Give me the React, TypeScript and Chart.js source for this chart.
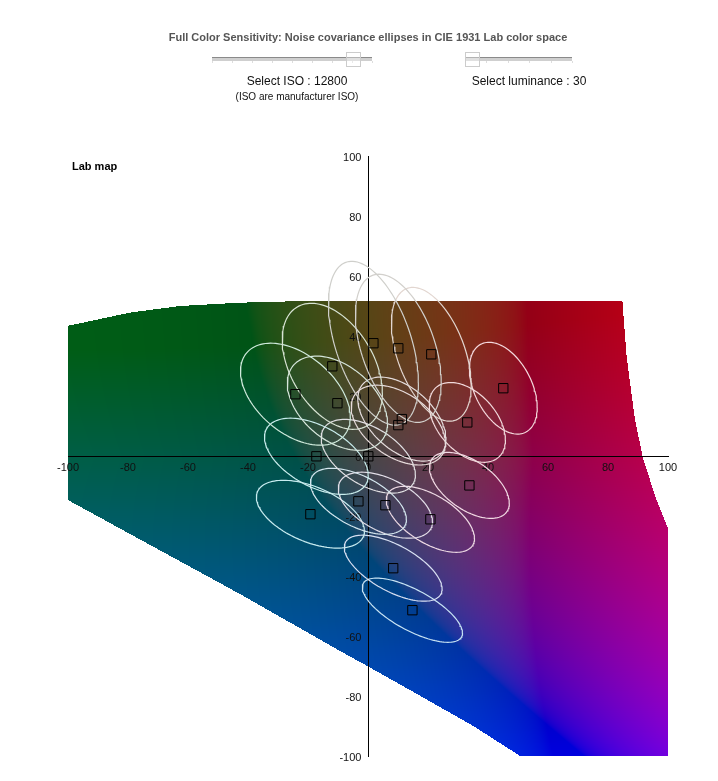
import React, { useEffect, useRef } from "react";
import { Chart, registerables } from "chart.js";

Chart.register(...registerables);

const axisTicks = [-100, -80, -60, -40, -20, 0, 20, 40, 60, 80, 100];

// Measured colour patches (a*, b*)
const patchA = [1.8, 10.1, 21.1, 45.1, -11.9, -24.2, -10.2, 11.3, 10.1, 33.1, -17.2, 0.1, 33.8, -3.2, 5.8, -19.2, 20.8, 8.4, 14.8];
const patchB = [37.6, 35.9, 33.9, 22.6, 29.9, 20.6, 17.6, 12.3, 10.3, 11.2, -0.1, -0.1, -9.8, -15.1, -16.4, -19.4, -21.1, -37.4, -51.4];

// Noise covariance ellipses: half extents along a*, b* and their correlation
const spreadA = [15, 14.3, 13.3, 11.3, 16.7, 18.3, 16.7, 14.7, 15.7, 12.7, 17.3, 15.7, 13.3, 16, 15.7, 18, 14.7, 16.3, 16.7];
const spreadB = [27.3, 24.7, 22.3, 15.3, 21, 17, 15.7, 14, 13.3, 13.3, 12.7, 12.3, 11, 11, 11, 11.3, 11, 11, 10.7];
const correlation = [-0.48, -0.45, -0.46, -0.42, -0.42, -0.45, -0.42, -0.48, -0.45, -0.44, -0.5, -0.5, -0.54, -0.55, -0.5, -0.5, -0.58, -0.63, -0.71];
const ellipseColors = [
  "#cfcfcb", "#d2d0cc", "#e2d6d0", "#f4d8dc", "#d8e4d4", "#cfeadc", "#d6e6dc", "#e4dcdc", "#e8dcdc", "#f2dadc",
  "#c8ecec", "#e0dfe2", "#f2dae4", "#d4e6ee", "#e2dee8", "#c8ecf0", "#eedae4", "#d8e0f2", "#c8e4f4",
];

// Outline of the displayed Lab map at L = 30
const gamutA = [-100, -79.3, -62.7, -42.7, -20, 84.8, 86.2, 89, 91.8, 96.2, 100, 100, 50.7, 35.1, 12.9, 0.1, -9.3, -42.7, -100];
const gamutB = [43.4, 47.8, 50, 51.1, 51.7, 51.7, 33.1, 12, -1.3, -14.7, -24.1, -100, -100, -90, -77.4, -70.2, -65, -46, -14.7];
const mapLightness = 30;

function inGamut(a: number, b: number) {
  let inside = false;
  const n = gamutA.length;
  for (let i = 0, j = n - 1; i < n; j = i++) {
    const yi = gamutB[i], yj = gamutB[j];
    if (yi > b !== yj > b && a < ((gamutA[j] - gamutA[i]) * (b - yi)) / (yj - yi) + gamutA[i]) inside = !inside;
  }
  return inside;
}

function labToRgb(L: number, a: number, b: number) {
  const fy = (L + 16) / 116;
  const inv = (t: number) => (t > 6 / 29 ? t * t * t : 3 * (6 / 29) * (6 / 29) * (t - 4 / 29));
  const X = 0.9505 * inv(fy + a / 500);
  const Y = inv(fy);
  const Z = 1.089 * inv(fy - b / 200);
  const r = 3.2406 * X - 1.5372 * Y - 0.4986 * Z;
  const g = -0.9689 * X + 1.8758 * Y + 0.0415 * Z + Math.min(0, b) * 0.0002;
  const bl = 0.0557 * X - 0.204 * Y + 1.057 * Z;
  const enc = (v: number) => {
    const c = Math.max(0, Math.min(1, v));
    return 255 * (c <= 0.0031308 ? 12.92 * c : 1.055 * Math.pow(c, 1 / 2.4) - 0.055);
  };
  return [enc(r), enc(g), enc(Math.max(bl, 0) * 0.88 + 0.008)];
}

const labMapPlugin = {
  id: "labMap",
  beforeDraw(chart: any) {
    const { ctx, chartArea, scales } = chart;
    const left = Math.round(chartArea.left);
    const top = Math.round(chartArea.top);
    const w = Math.round(chartArea.right - chartArea.left);
    const h = Math.round(chartArea.bottom - chartArea.top);
    const off = document.createElement("canvas");
    off.width = w;
    off.height = h;
    const octx = off.getContext("2d")!;
    const img = octx.createImageData(w, h);
    for (let py = 0; py < h; py++) {
      const b = scales.y.getValueForPixel(top + py + 0.5);
      for (let px = 0; px < w; px++) {
        const a = scales.x.getValueForPixel(left + px + 0.5);
        if (!inGamut(a, b)) continue;
        const [r, g, bl] = labToRgb(mapLightness, a, b);
        const i = (py * w + px) * 4;
        img.data[i] = r;
        img.data[i + 1] = g;
        img.data[i + 2] = bl;
        img.data[i + 3] = 255;
      }
    }
    octx.putImageData(img, 0, 0);
    ctx.drawImage(off, left, top);
  },
};

function ellipseOutline(i: number) {
  const pts: { x: number; y: number }[] = [];
  const q = Math.sqrt(1 - correlation[i] * correlation[i]);
  for (let k = 0; k <= 120; k++) {
    const t = (k / 120) * 2 * Math.PI;
    pts.push({
      x: patchA[i] + spreadA[i] * Math.cos(t),
      y: patchB[i] + spreadB[i] * (correlation[i] * Math.cos(t) + q * Math.sin(t)),
    });
  }
  return pts;
}

const F = '"Liberation Sans", Arial, sans-serif';

function Text({ x, y, children, size, bold, color, anchor }: any) {
  return (
    <div
      style={{
        position: "absolute",
        left: x,
        top: y,
        transform: anchor === "left" ? "translateY(-50%)" : "translate(-50%,-50%)",
        font: `${bold ? "bold " : ""}${size}px ${F}`,
        color,
        whiteSpace: "nowrap",
      }}
    >
      {children}
    </div>
  );
}

function Slider({ x, width, handle, ticks }: { x: number; width: number; handle: number; ticks: number }) {
  return (
    <div style={{ position: "absolute", left: x, top: 52, width, height: 15 }}>
      <div style={{ position: "absolute", left: 0, right: 0, top: 5, height: 1, background: "#8a8a8a" }} />
      <div style={{ position: "absolute", left: 0, right: 0, top: 6, height: 3, background: "#cfcfcf" }} />
      {Array.from({ length: ticks }, (_, i) => (
        <div key={i} style={{ position: "absolute", left: (i * width) / (ticks - 1), top: 9, width: 1, height: 2, background: "#dddddd" }} />
      ))}
      <div style={{ position: "absolute", left: handle, top: 0, width: 13, height: 13, border: "1px solid #cccccc", background: "rgba(255,255,255,0.35)" }} />
    </div>
  );
}

export default function App() {
  const ref = useRef<HTMLCanvasElement>(null);
  useEffect(() => {
    const ellipses = patchA.map((_, i) => ({
      type: "scatter" as const,
      data: ellipseOutline(i),
      showLine: true,
      borderColor: ellipseColors[i],
      borderWidth: 1.2,
      pointRadius: 0,
      tension: 0,
      fill: false,
      order: 2,
    }));
    const setTicks = (s: any) => { s.ticks = axisTicks.map((value) => ({ value })); };
    const chart = new Chart(ref.current!, {
      type: "scatter",
      data: {
        datasets: [
          ...ellipses,
          {
            type: "scatter" as const,
            data: patchA.map((a, i) => ({ x: a, y: patchB[i] })),
            pointStyle: "rect",
            pointRadius: 6.6,
            pointBorderColor: "#000000",
            pointBorderWidth: 1,
            pointBackgroundColor: "rgba(0,0,0,0)",
            order: 1,
          },
        ],
      },
      options: {
        animation: false,
        responsive: false,
        devicePixelRatio: 1,
        layout: { padding: { left: 68, top: 156, right: 50, bottom: 25 } },
        plugins: { legend: { display: false }, tooltip: { enabled: false }, title: { display: false } },
        scales: {
          x: {
            type: "linear",
            position: { y: 0 },
            min: -100,
            max: 100,
            afterBuildTicks: setTicks,
            grid: { display: false, drawTicks: false },
            border: { display: true, color: "#000000", width: 1 },
            ticks: { autoSkip: false, maxRotation: 0, padding: 5, color: "#111111", font: { family: F, size: 11 } },
          },
          // Labelled axis, set slightly left of the zero line so its labels clear it
          y: {
            type: "linear",
            position: { x: -2.2 },
            min: -100,
            max: 100,
            afterBuildTicks: setTicks,
            grid: { display: false, drawTicks: false },
            border: { display: false },
            ticks: { autoSkip: false, labelOffset: 1.5, color: "#111111", font: { family: F, size: 11 } },
          },
          yLine: {
            type: "linear",
            axis: "y",
            position: { x: 0 },
            min: -100,
            max: 100,
            grid: { display: false, drawTicks: false },
            border: { display: true, color: "#000000", width: 1 },
            ticks: { display: false },
          },
        },
      },
      plugins: [labMapPlugin],
    } as any);
    return () => chart.destroy();
  }, []);
  return (
    <div style={{ position: "absolute", left: 0, top: 0, width: 718, height: 781, background: "#ffffff", overflow: "hidden" }}>
      <canvas ref={ref} width={718} height={781} style={{ display: "block", width: 718, height: 781 }} />
      <Text x={368} y={37} size={11} bold color="#555555">Full Color Sensitivity: Noise covariance ellipses in CIE 1931 Lab color space</Text>
      <Slider x={212} width={160} handle={134} ticks={9} />
      <Slider x={465} width={107} handle={0} ticks={6} />
      <Text x={297} y={81} size={12} color="#111111">Select ISO : 12800</Text>
      <Text x={297} y={95.5} size={10} color="#111111">(ISO are manufacturer ISO)</Text>
      <Text x={529} y={81} size={12} color="#111111">Select luminance : 30</Text>
      <Text x={72} y={166} size={11} bold color="#000000" anchor="left">Lab map</Text>
    </div>
  );
}
